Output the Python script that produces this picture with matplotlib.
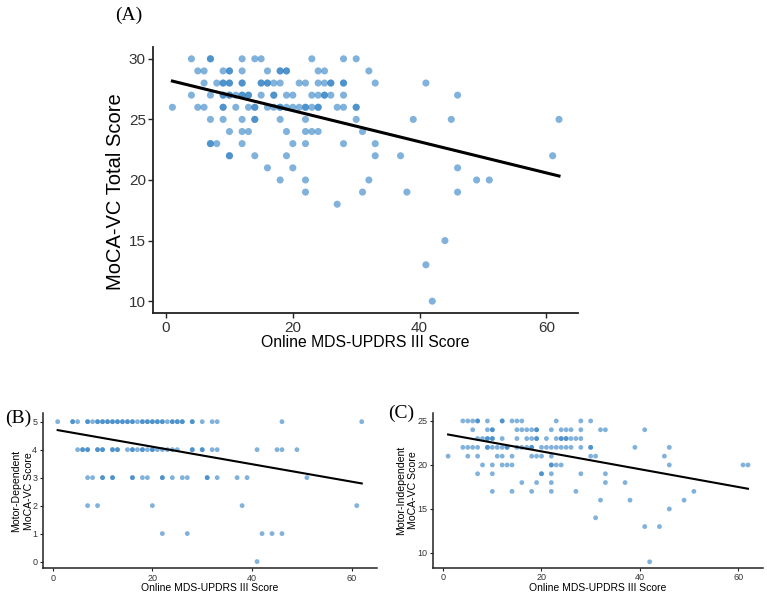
import matplotlib.pyplot as plt
import numpy as np

plt.rcParams['font.family'] = ['Liberation Sans', 'DejaVu Sans']

# (A) MoCA-VC total vs MDS-UPDRS III
a_updrs = [4, 7, 7, 12, 14, 15, 23, 28, 30,
           5, 6, 9, 10, 10, 12, 16, 18, 18, 19, 19, 24, 25, 32,
           6, 8, 9, 9, 10, 10, 12, 12, 15, 15, 16, 16, 17, 18, 21, 22, 24, 25, 26, 26, 28, 28, 33, 41,
           4, 7, 9, 9, 10, 10, 11, 12, 12, 13, 13, 15, 17, 17, 19, 20, 23, 24, 25, 25, 26, 28, 46,
           1, 5, 6, 9, 9, 11, 13, 14, 14, 16, 17, 18, 18, 19, 20, 21, 22, 22, 23, 24, 24, 27, 28, 30, 30,
           7, 9, 12, 14, 14, 18, 22, 30, 39, 45, 62,
           10, 12, 13, 19, 22, 23, 24, 31,
           7, 7, 8, 12, 20, 22, 28, 33,
           10, 10, 14, 19, 33, 37, 61,
           16, 20, 46,
           18, 22, 32, 49, 51,
           22, 31, 38, 46,
           27, 44, 41, 42]
a_moca = ([30] * 9 + [29] * 14 + [28] * 24 + [27] * 23 + [26] * 25 + [25] * 11
          + [24] * 8 + [23] * 8 + [22] * 7 + [21] * 3 + [20] * 5 + [19] * 4
          + [18, 15, 13, 10])
a_fit = (28.29, -0.1284)  # intercept, slope

# (B) motor-dependent score
b_updrs = [1, 4, 4, 5, 7, 7, 8, 9, 9, 10, 10, 11, 11, 12, 12, 13, 13, 14, 14, 15, 15, 16, 16, 17,
           18, 18, 19, 19, 20, 20, 21, 21, 22, 22, 23, 24, 24, 25, 25, 26, 26, 28, 28, 30, 32, 33, 46, 62,
           5, 6, 6, 7, 7, 9, 9, 10, 10, 12, 12, 13, 13, 15, 16, 16, 17, 18, 18, 19, 20, 20, 21, 22,
           23, 24, 25, 28, 28, 30, 30, 32, 33, 41, 45, 46, 49,
           7, 8, 10, 10, 12, 12, 16, 16, 18, 19, 22, 22, 24, 26, 27, 31, 31, 33, 37, 39, 51,
           7, 9, 20, 38, 61,
           22, 27, 42, 44, 46,
           41]
b_moca = [5] * 48 + [4] * 37 + [3] * 21 + [2] * 5 + [1] * 5 + [0]
b_fit = (4.73, -0.03125)

# (C) motor-independent score
c_updrs = [4, 5, 6, 7, 7, 9, 12, 12, 14, 15, 16, 23, 28, 30,
           6, 9, 10, 10, 15, 16, 17, 18, 19, 19, 22, 24, 25, 26, 28, 32, 33, 41,
           7, 8, 9, 9, 10, 10, 12, 15, 17, 18, 19, 19, 21, 23, 24, 24, 25, 25, 26, 27, 28,
           4, 5, 6, 7, 9, 9, 10, 11, 12, 13, 13, 15, 16, 17, 18, 18, 20, 21, 22, 23, 24, 25, 26, 28,
           30, 30, 39, 46,
           1, 5, 7, 11, 12, 14, 18, 19, 20, 22, 30, 31, 45,
           8, 10, 12, 13, 14, 22, 22, 23, 24, 46, 61, 62,
           7, 10, 20, 20, 22, 28, 33,
           16, 19, 22, 33, 37,
           10, 14, 18, 22, 27, 51,
           32, 38, 49,
           46, 31, 41, 44, 42]
c_moca = ([25] * 14 + [24] * 18 + [23] * 21 + [22] * 28 + [21] * 13 + [20] * 12
          + [19] * 7 + [18] * 5 + [17] * 6 + [16] * 3 + [15, 14, 13, 13, 9])
c_fit = (23.56, -0.101)

x_label = 'Online MDS-UPDRS III Score'
dot_color = '#2e7fc4'
axis_grey = '#333333'

fig = plt.figure(figsize=(7.67, 5.94), dpi=100)


def panel(rect, x, y, fit, yticks, ylim, ylabel, big):
    ax = fig.add_axes(rect)
    ax.scatter(x, y, s=26 if big else 12, color=dot_color, alpha=0.6,
               edgecolors='none', zorder=2)
    xs = np.array([min(x), max(x)])
    ax.plot(xs, fit[0] + fit[1] * xs, color='black', lw=2.2 if big else 1.5, zorder=3)
    ax.set_xlim(-2, 65)
    ax.set_ylim(*ylim)
    ax.set_xticks([0, 20, 40, 60])
    ax.set_yticks(yticks)
    for side in ['top', 'right']:
        ax.spines[side].set_visible(False)
    for side in ['left', 'bottom']:
        ax.spines[side].set_linewidth(1.3 if big else 1.1)
        ax.spines[side].set_color('#222222')
    ax.tick_params(length=3.5 if big else 2.5, width=1 if big else 0.8,
                   labelsize=11 if big else 6.5, colors='#222222', labelcolor=axis_grey,
                   pad=2 if big else 1.5)
    ax.set_xlabel(x_label, fontsize=11.3 if big else 7.5)
    ax.set_ylabel(ylabel, fontsize=14.5 if big else 7.6, linespacing=1.3)
    return ax


ax_a = panel([0.2, 0.4726, 0.5536, 0.4488], a_updrs, a_moca, a_fit,
             [10, 15, 20, 25, 30], (9.0, 31.0), 'MoCA-VC Total Score', True)
ax_a.yaxis.set_label_coords(-0.067, 0.456)
ax_a.xaxis.set_label_coords(0.5, -0.08)

ax_b = panel([0.0557, 0.0433, 0.4354, 0.2614], b_updrs, b_moca, b_fit,
             [0, 1, 2, 3, 4, 5], (-0.24, 5.31), 'Motor-Dependent\nMoCA-VC Score', False)
ax_b.yaxis.set_label_coords(-0.027, 0.5)
ax_b.xaxis.set_label_coords(0.5, -0.095)

ax_c = panel([0.565, 0.0443, 0.4294, 0.26], c_updrs, c_moca, c_fit,
             [10, 15, 20, 25], (8.33, 25.875), 'Motor-Independent\nMoCA-VC Score', False)
ax_c.yaxis.set_label_coords(-0.046, 0.5)
ax_c.xaxis.set_label_coords(0.5, -0.099)

fig.text(115 / 767, 1 - 15 / 594, '(A)', fontsize=14, family='Liberation Serif', va='center')
fig.text(5 / 767, 1 - 418 / 594, '(B)', fontsize=14, family='Liberation Serif', va='center')
fig.text(388 / 767, 1 - 413 / 594, '(C)', fontsize=14, family='Liberation Serif', va='center')

fig.savefig('out.png', dpi=100)
